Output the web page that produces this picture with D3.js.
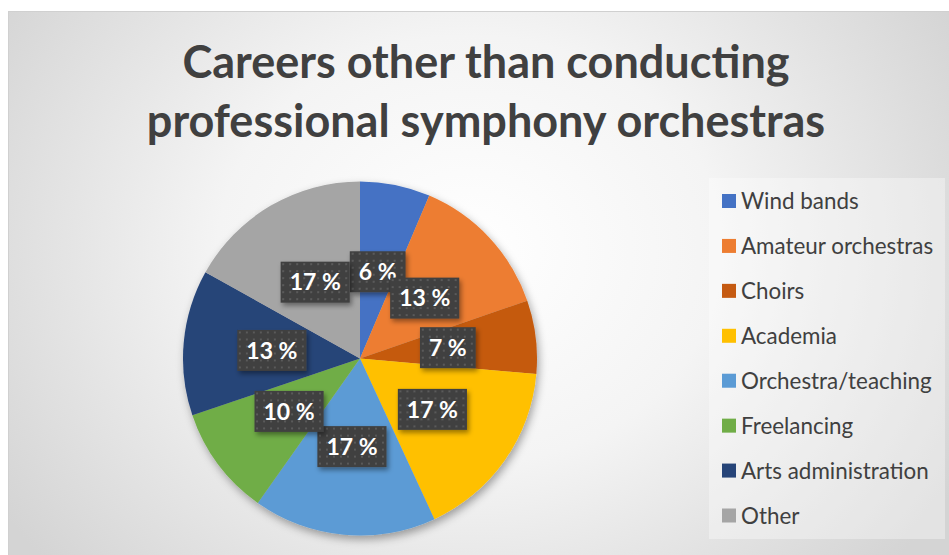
<!DOCTYPE html>
<html>
<head>
<meta charset="utf-8">
<script src="https://cdn.jsdelivr.net/npm/d3@7"></script>
<style>
  body { margin: 0; background: #ffffff; }
  svg { display: block; font-family: Lato, "Open Sans", sans-serif; }
</style>
</head>
<body>
<svg id="svg1" width="949" height="555"></svg>
<script>
var width = 949;
var height = 555;

// data
var categories = ['Wind bands', 'Amateur orchestras', 'Choirs', 'Academia',
                  'Orchestra/teaching', 'Freelancing', 'Arts administration', 'Other'];
var shares = [6.4, 13.3, 6.7, 16.7, 16.7, 10.0, 13.3, 16.9];
var colors = ['#4472c4', '#ed7d31', '#c55a11', '#ffc000',
              '#5b9bd5', '#70ad47', '#264478', '#a5a5a5'];
var titleLines = ['Careers other than conducting', 'professional symphony orchestras'];

var svg = d3.select('svg');
var defs = svg.append('defs');

// background gradient of the chart area
var bg = defs.append('radialGradient')
    .attr('id', 'bg')
    .attr('gradientUnits', 'userSpaceOnUse')
    .attr('cx', 470).attr('cy', 250).attr('r', 560)
    .attr('gradientTransform', 'translate(470,250) scale(1,0.85) translate(-470,-250)');
bg.append('stop').attr('offset', 0).attr('stop-color', '#ffffff');
bg.append('stop').attr('offset', 0.45).attr('stop-color', '#f4f4f4');
bg.append('stop').attr('offset', 1).attr('stop-color', '#d4d4d4');

// dotted texture of the label boxes
var pat = defs.append('pattern')
    .attr('id', 'dots')
    .attr('patternUnits', 'userSpaceOnUse')
    .attr('width', 7).attr('height', 7);
pat.append('rect').attr('width', 7).attr('height', 7).attr('fill', '#404040');
pat.append('rect').attr('x', 2).attr('y', 2).attr('width', 2).attr('height', 2).attr('fill', '#5a5a5a');

var shadow = defs.append('filter').attr('id', 'shadow')
    .attr('x', '-20%').attr('y', '-20%').attr('width', '140%').attr('height', '140%');
shadow.append('feDropShadow')
    .attr('dx', 2).attr('dy', 4).attr('stdDeviation', 4)
    .attr('flood-color', '#000').attr('flood-opacity', 0.35);

var boxShadow = defs.append('filter').attr('id', 'boxShadow')
    .attr('x', '-30%').attr('y', '-30%').attr('width', '160%').attr('height', '170%');
boxShadow.append('feDropShadow')
    .attr('dx', 2).attr('dy', 3).attr('stdDeviation', 2.5)
    .attr('flood-color', '#000').attr('flood-opacity', 0.4);

svg.append('rect')
    .attr('x', 8.5).attr('y', 11.5)
    .attr('width', 960).attr('height', 560)
    .attr('fill', 'url(#bg)')
    .attr('stroke', '#d0d0d0');

// title
svg.append('g').selectAll('text')
    .data(titleLines)
    .enter()
    .append('text')
    .attr('x', 486)
    .attr('y', function(d, i) { return 78 + i * 59; })
    .attr('text-anchor', 'middle')
    .attr('font-size', 45)
    .attr('font-weight', 'bold')
    .attr('fill', '#404040')
    .text(function(d) { return d; });

// pie
var radius = 177;
var cx = 360, cy = 358.5;

var pie = d3.pie().sort(null).value(function(d) { return d; });
var arc = d3.arc().innerRadius(0).outerRadius(radius);
var arcs = pie(shares);

var pieG = svg.append('g')
    .attr('transform', 'translate(' + cx + ',' + cy + ')');

pieG.append('g')
    .attr('filter', 'url(#shadow)')
    .selectAll('path')
    .data(arcs)
    .enter()
    .append('path')
    .attr('d', arc)
    .attr('fill', function(d, i) { return colors[i]; });

// data labels
var labels = pieG.append('g')
    .selectAll('g')
    .data(arcs)
    .enter()
    .append('g')
    .attr('transform', function(d) { return 'translate(' + arc.centroid(d) + ')'; });

labels.append('rect')
    .attr('fill', 'url(#dots)')
    .attr('filter', 'url(#boxShadow)');

labels.append('text')
    .attr('text-anchor', 'middle')
    .attr('dy', '0.36em')
    .attr('font-size', 23)
    .attr('font-weight', 'bold')
    .attr('fill', '#ffffff')
    .text(function(d) { return Math.round(d.data) + ' %'; });

labels.each(function() {
  var g = d3.select(this);
  var b = g.select('text').node().getBBox();
  var w = b.width + 18;
  g.select('rect')
   .attr('x', -w / 2).attr('y', -20.5)
   .attr('width', w).attr('height', 41);
});

// legend
var legY = d3.scalePoint()
    .domain(categories)
    .range([201, 515.5]);

svg.append('rect')
    .attr('x', 709).attr('y', 178)
    .attr('width', 236).attr('height', 361)
    .attr('fill', '#ffffff').attr('fill-opacity', 0.35);

var legend = svg.append('g')
    .selectAll('g')
    .data(categories)
    .enter()
    .append('g')
    .attr('transform', function(d) { return 'translate(722,' + legY(d) + ')'; });

legend.append('rect')
    .attr('x', 0).attr('y', -7)
    .attr('width', 14).attr('height', 14)
    .attr('fill', function(d, i) { return colors[i]; });

legend.append('text')
    .attr('x', 19)
    .attr('dy', '0.36em')
    .attr('font-size', 22.4)
    .attr('fill', '#404040')
    .text(function(d) { return d; });
</script>
</body>
</html>
